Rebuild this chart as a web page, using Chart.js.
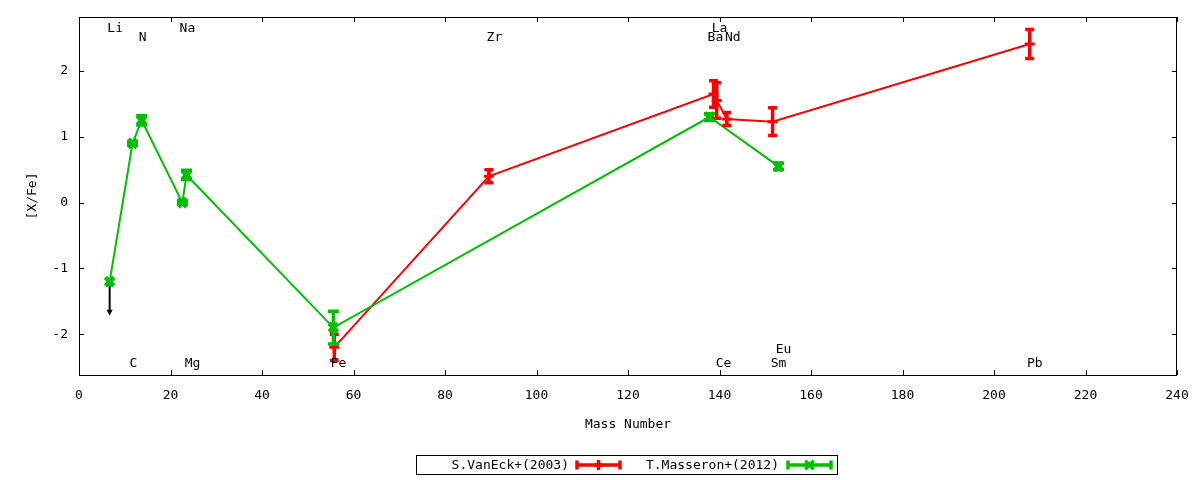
<!DOCTYPE html>
<html>
<head>
<meta charset="utf-8">
<script src="https://cdn.jsdelivr.net/npm/chart.js@4/dist/chart.umd.min.js"></script>
<style>
  html, body { margin: 0; padding: 0; background: #fff; }
  #wrap { width: 1200px; height: 480px; }
</style>
</head>
<body>
<div id="wrap"><canvas id="abundChart" width="1200" height="480"></canvas></div>
<script>
// S.VanEck+(2003)
const vanEckMass = [55.8, 89.6, 138.7, 139.4, 141.6, 151.6, 207.8];
const vanEckVal  = [-2.2, 0.4, 1.65, 1.55, 1.27, 1.23, 2.41];
const vanEckErr  = [0.2, 0.1, 0.2, 0.27, 0.1, 0.21, 0.22];

// T.Masseron+(2012)
const masseronMass = [6.7, 11.7, 13.7, 22.6, 23.5, 55.6, 137.8, 152.9];
const masseronVal  = [-1.2, 0.9, 1.25, 0.0, 0.42, -1.9, 1.3, 0.55];
const masseronErr  = [0, 0.02, 0.07, 0.02, 0.07, 0.25, 0.05, 0.05];

// Li is an upper limit
const limitMass = [6.7];
const limitFrom = [-1.2];
const limitTo   = [-1.72];

// element names written in the plot
const elemNames = ['Li', 'N', 'Na', 'Zr', 'La', 'Ba', 'Nd', 'Pb', 'C', 'Mg', 'Fe', 'Ce', 'Sm', 'Eu'];
const elemX     = [7.9, 13.9, 23.7, 90.8, 140.0, 139.1, 142.9, 208.9, 11.9, 24.8, 56.7, 140.9, 152.9, 154.0];
const elemY     = [2.65, 2.5, 2.65, 2.5, 2.65, 2.5, 2.5, -2.44, -2.44, -2.44, -2.44, -2.44, -2.44, -2.23];

const xTicks = [0, 20, 40, 60, 80, 100, 120, 140, 160, 180, 200, 220, 240];
const yTicks = [-2, -1, 0, 1, 2];

const RED = '#ff0000';
const GREEN = '#00c000';
const FONT = '"DejaVu Sans Mono", monospace';

function toPoints(xs, ys) {
    return xs.map((x, i) => ({ x: x, y: ys[i] }));
}

function errorBars(ctx, sx, sy, mass, vals, errs, color, cap) {
    ctx.save();
    ctx.strokeStyle = color;
    ctx.lineWidth = 3.5;
    ctx.lineCap = 'butt';
    for (let i = 0; i < mass.length; i++) {
        if (!errs[i]) continue;
        const x = sx.getPixelForValue(mass[i]);
        const y1 = sy.getPixelForValue(vals[i] + errs[i]);
        const y2 = sy.getPixelForValue(vals[i] - errs[i]);
        ctx.beginPath();
        ctx.moveTo(x, y1); ctx.lineTo(x, y2);
        ctx.moveTo(x - cap, y1); ctx.lineTo(x + cap, y1);
        ctx.moveTo(x - cap, y2); ctx.lineTo(x + cap, y2);
        ctx.stroke();
    }
    ctx.restore();
}

function legendSample(ctx, x1, x2, y, color, pointStyle, radius, bw) {
    ctx.save();
    ctx.strokeStyle = color;
    ctx.fillStyle = color;
    ctx.lineWidth = 3.5;
    ctx.beginPath();
    ctx.moveTo(x1, y); ctx.lineTo(x2, y);
    ctx.moveTo(x1, y - 4.5); ctx.lineTo(x1, y + 4.5);
    ctx.moveTo(x2, y - 4.5); ctx.lineTo(x2, y + 4.5);
    ctx.stroke();
    Chart.helpers.drawPoint(ctx, { pointStyle: pointStyle, radius: radius, borderWidth: bw }, (x1 + x2) / 2, y);
    ctx.restore();
}

const gnuplotFrame = {
    id: 'gnuplotFrame',
    afterDatasetsDraw(chart) {
        const { ctx, chartArea: a, scales: { x: sx, y: sy } } = chart;

        errorBars(ctx, sx, sy, vanEckMass, vanEckVal, vanEckErr, RED, 4.5);
        errorBars(ctx, sx, sy, masseronMass, masseronVal, masseronErr, GREEN, 5.5);

        // upper limit arrow
        ctx.save();
        ctx.strokeStyle = '#000';
        ctx.fillStyle = '#000';
        ctx.lineWidth = 2;
        limitMass.forEach((m, i) => {
            const x = sx.getPixelForValue(m);
            const y1 = sy.getPixelForValue(limitFrom[i]);
            const y2 = sy.getPixelForValue(limitTo[i]);
            ctx.beginPath();
            ctx.moveTo(x, y1 + 4); ctx.lineTo(x, y2 - 5);
            ctx.stroke();
            ctx.beginPath();
            ctx.moveTo(x - 3, y2 - 6); ctx.lineTo(x + 3, y2 - 6); ctx.lineTo(x, y2);
            ctx.closePath();
            ctx.fill();
        });
        ctx.restore();

        // border and inward ticks on all four sides
        ctx.save();
        ctx.strokeStyle = '#000';
        ctx.lineWidth = 1;
        ctx.strokeRect(Math.round(a.left) + 0.5, Math.round(a.top) + 0.5,
                       Math.round(a.right - a.left) - 1, Math.round(a.bottom - a.top));
        ctx.beginPath();
        xTicks.forEach(v => {
            const x = Math.round(sx.getPixelForValue(v)) + 0.5;
            ctx.moveTo(x, a.bottom); ctx.lineTo(x, a.bottom - 5);
            ctx.moveTo(x, a.top); ctx.lineTo(x, a.top + 5);
        });
        yTicks.forEach(v => {
            const y = Math.round(sy.getPixelForValue(v)) + 0.5;
            ctx.moveTo(a.left, y); ctx.lineTo(a.left + 5, y);
            ctx.moveTo(a.right, y); ctx.lineTo(a.right - 5, y);
        });
        ctx.stroke();

        // element labels
        ctx.fillStyle = '#000';
        ctx.font = '13px ' + FONT;
        ctx.textAlign = 'center';
        ctx.textBaseline = 'middle';
        elemNames.forEach((n, i) => {
            ctx.fillText(n, sx.getPixelForValue(elemX[i]), sy.getPixelForValue(elemY[i]));
        });

        // legend
        ctx.strokeRect(416.5, 455.5, 421, 19);
        ctx.textAlign = 'right';
        ctx.fillText('S.VanEck+(2003)', 569, 465.5);
        ctx.fillText('T.Masseron+(2012)', 779, 465.5);
        ctx.restore();
        legendSample(ctx, 577, 620, 465, RED, 'cross', 5, 3);
        legendSample(ctx, 788, 831, 465, GREEN, 'crossRot', 6, 4.5);
    }
};

const tickFont = { family: FONT, size: 13 };

const ctxAbund = document.getElementById('abundChart').getContext('2d');
new Chart(ctxAbund, {
    type: 'line',
    data: {
        datasets: [{
            label: 'S.VanEck+(2003)',
            data: toPoints(vanEckMass, vanEckVal),
            borderColor: RED,
            backgroundColor: RED,
            borderWidth: 2,
            pointStyle: 'cross',
            pointRadius: 5,
            pointBorderWidth: 3,
            tension: 0,
            order: 2
        }, {
            label: 'T.Masseron+(2012)',
            data: toPoints(masseronMass, masseronVal),
            borderColor: GREEN,
            backgroundColor: GREEN,
            borderWidth: 2,
            pointStyle: 'crossRot',
            pointRadius: 6,
            pointBorderWidth: 4.5,
            tension: 0,
            order: 1
        }]
    },
    options: {
        responsive: false,
        animation: false,
        devicePixelRatio: 1,
        layout: { padding: { left: 0, top: 17, right: 23, bottom: 0 } },
        plugins: {
            legend: { display: false },
            tooltip: { enabled: false }
        },
        scales: {
            x: {
                type: 'linear',
                min: 0,
                max: 240,
                afterFit: scale => { scale.height = 105; },
                afterBuildTicks: scale => { scale.ticks = xTicks.map(v => ({ value: v })); },
                grid: { display: false },
                border: { display: false },
                ticks: {
                    color: '#000',
                    font: tickFont,
                    padding: 5,
                    maxRotation: 0,
                    autoSkip: false
                },
                title: {
                    display: true,
                    text: 'Mass Number',
                    color: '#000',
                    font: tickFont,
                    padding: { top: 0, bottom: 48 }
                }
            },
            y: {
                type: 'linear',
                min: -2.62,
                max: 2.82,
                afterFit: scale => { scale.width = 79; },
                afterBuildTicks: scale => { scale.ticks = yTicks.map(v => ({ value: v })); },
                grid: { display: false },
                border: { display: false },
                ticks: {
                    color: '#000',
                    font: tickFont,
                    padding: 3
                },
                title: {
                    display: true,
                    text: '[X/Fe]',
                    color: '#000',
                    font: tickFont,
                    padding: { top: 25, bottom: 0 }
                }
            }
        }
    },
    plugins: [gnuplotFrame]
});
</script>
</body>
</html>
